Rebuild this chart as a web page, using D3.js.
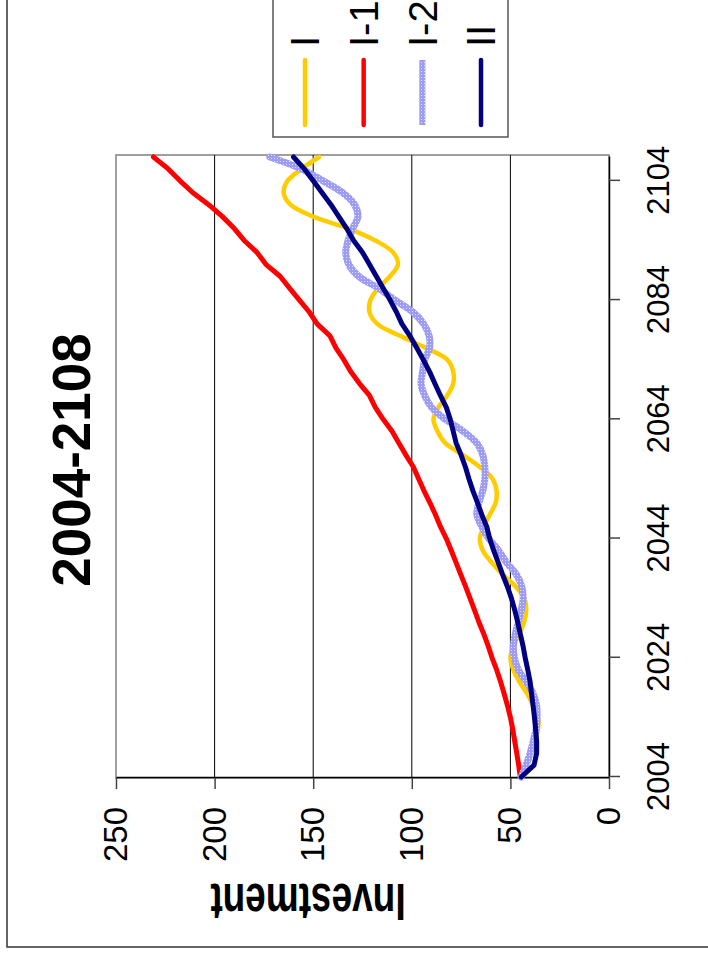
<!DOCTYPE html>
<html>
<head>
<meta charset="utf-8">
<script src="https://cdn.jsdelivr.net/npm/d3@7"></script>
<style>
    body { margin: 0; background: #fff; }
    svg { display: block; }
    text { font-family: "Liberation Sans", Arial, sans-serif; }
</style>
</head>
<body>
<svg id="mainSvg" width="708" height="958"></svg>
<script>
// Data (every 2 years)
let years = d3.range(2004, 2109, 2);

let seriesI = [44, 42, 39.5, 37.5, 36, 36, 38.5, 41.5, 45.5, 48.5, 50, 48.5, 45.5, 43, 42, 43,
    47.5, 54, 59.5, 64, 65.5, 63.5, 60.5, 57.5, 57, 59, 65.5, 74, 83, 87, 89, 86.5, 82, 79, 79,
    82, 93, 106, 117.5, 121.5, 121, 117, 111, 107, 109.5, 118.5, 132, 150, 161.5, 165, 163, 156, 147];

let seriesI1 = [45, 45.8, 46.8, 47.8, 48.8, 50, 51.5, 53.2, 55, 57, 59.3, 61.3, 63.5, 66, 68.2,
    70.5, 72.8, 75.2, 77.6, 80, 82.5, 85.5, 88, 90.8, 93.8, 96.5, 99.2, 103, 106.5, 110, 114.5,
    118.5, 121.5, 126.5, 131, 134.5, 138.5, 141.5, 148, 152, 157, 162, 166.8, 174, 178.5, 185,
    190, 196, 203, 211, 217.5, 223.5, 231];

let seriesI2 = [44.5, 42, 40, 38.4, 37, 36.5, 36.7, 38.5, 42, 46, 48, 48.5, 47.5, 46, 44.5, 43.5,
    44.3, 47, 52, 56, 61, 64.5, 67, 66, 64, 63, 63, 64, 67, 74, 83, 90, 93.5, 95.3, 94.5, 93.5,
    91, 91.2, 94, 99.5, 108.5, 117, 127, 132, 133.5, 132.3, 130, 127.3, 129, 135, 145, 156, 172];

let seriesII = [44.5, 38, 36.7, 36.7, 37.2, 37.8, 38.5, 39.3, 40, 41.2, 42.5, 43.6, 45, 46.3,
    47.8, 49.5, 51.6, 54, 56.2, 58.5, 60.5, 62, 64.5, 66.7, 69, 71, 72.8, 75, 77.5, 79, 80.5,
    82.5, 85.5, 88.3, 91, 94.2, 97.5, 101, 105, 107.8, 111, 114.5, 118, 121.5, 125, 129.5, 133,
    137, 141, 145.5, 150, 154.5, 160];

let seriesNames = ["I", "I-1", "I-2", "II"];
let yearTicks = [2004, 2024, 2044, 2064, 2084, 2104];
let valueTicks = [0, 50, 100, 150, 200, 250];

let svg = d3.select("#mainSvg");

// pattern for the speckled I-2 line
let defs = svg.append("defs");
let pat = defs.append("pattern")
    .attr("id", "speckle")
    .attr("patternUnits", "userSpaceOnUse")
    .attr("width", 3)
    .attr("height", 3);
pat.append("rect").attr("width", 3).attr("height", 3).attr("fill", "#9c9cf6");
pat.append("rect").attr("x", 1).attr("y", 1).attr("width", 1).attr("height", 1).attr("fill", "#e4e4ff");

// The chart is drawn landscape, then turned a quarter turn to the left
let g = svg.append("g").attr("transform", "translate(0,958) rotate(-90)");

// outer chart border
g.append("rect")
    .attr("x", 11).attr("y", 7)
    .attr("width", 980).attr("height", 740)
    .attr("fill", "none")
    .attr("stroke", "#333")
    .attr("stroke-width", 1.5);

let x = d3.scaleLinear().domain([2004, 2108]).range([181, 801]);
let y = d3.scaleLinear().domain([0, 250]).range([609, 116]);

// plot area
g.append("rect")
    .attr("x", 180).attr("y", 116)
    .attr("width", 623).attr("height", 493)
    .attr("fill", "#fff")
    .attr("stroke", "#808080")
    .attr("stroke-width", 1.5);

// gridlines
g.append("g")
    .selectAll("line")
    .data(valueTicks.filter((d) => d > 0 && d < 250))
    .join("line")
    .attr("x1", 180).attr("x2", 803)
    .attr("y1", (d) => y(d)).attr("y2", (d) => y(d))
    .attr("stroke", "#000")
    .attr("stroke-width", 1);

// category axis
let xAxis = g.append("g")
    .attr("transform", "translate(0,609)")
    .call(d3.axisBottom(x).tickValues(yearTicks).tickSize(11).tickSizeOuter(0)
        .tickPadding(27).tickFormat(d3.format("d")));
xAxis.select(".domain").attr("stroke", "#000").attr("stroke-width", 1.5);
xAxis.selectAll(".tick line").attr("stroke", "#444").attr("stroke-width", 1.5);
xAxis.selectAll("text").attr("font-size", 31).attr("fill", "#000");

// value axis
let yAxis = g.append("g")
    .attr("transform", "translate(180,0)")
    .call(d3.axisLeft(y).tickValues(valueTicks).tickSize(11).tickSizeOuter(0).tickPadding(18));
yAxis.select(".domain").attr("stroke", "#000").attr("stroke-width", 1.5);
yAxis.selectAll(".tick line").attr("stroke", "#444").attr("stroke-width", 1.5);
yAxis.selectAll("text").attr("font-size", 33).attr("fill", "#000");

// lines
let series = [
    { name: "I", values: seriesI, color: "#ffcc00", width: 4.5, curve: d3.curveCatmullRom },
    { name: "I-1", values: seriesI1, color: "#ff0000", width: 5, curve: d3.curveLinear },
    { name: "I-2", values: seriesI2, color: "url(#speckle)", width: 7, curve: d3.curveCatmullRom },
    { name: "II", values: seriesII, color: "#000080", width: 5, curve: d3.curveLinear },
];

series.forEach(function (s) {
    let line = d3.line()
        .x((d, i) => x(years[i]))
        .y((d) => y(d))
        .curve(s.curve);
    g.append("path")
        .datum(s.values)
        .attr("d", line)
        .attr("fill", "none")
        .attr("stroke", s.color)
        .attr("stroke-width", s.width)
        .attr("stroke-linejoin", "round")
        .attr("stroke-linecap", "round");
});

// title
g.append("text")
    .attr("x", 498).attr("y", 90)
    .attr("text-anchor", "middle")
    .attr("font-size", 53)
    .attr("font-weight", "bold")
    .text("2004-2108");

// value axis title (glyphs look taller than wide in the picture)
g.append("text")
    .attr("transform", "translate(74,308) rotate(-90) scale(1,1.4)")
    .attr("text-anchor", "middle")
    .attr("font-size", 37)
    .attr("font-weight", "bold")
    .text("Investment");

// legend
let legend = g.append("g");
legend.append("rect")
    .attr("x", 821).attr("y", 273)
    .attr("width", 200).attr("height", 235)
    .attr("fill", "#fff")
    .attr("stroke", "#555")
    .attr("stroke-width", 1.5);

let legendY = d3.scalePoint().domain(seriesNames).range([305, 481]);

series.forEach(function (s) {
    legend.append("line")
        .attr("x1", 833).attr("x2", 898)
        .attr("y1", legendY(s.name)).attr("y2", legendY(s.name))
        .attr("stroke", s.color)
        .attr("stroke-width", s.name === "I-2" ? 6 : 4.5)
        .attr("stroke-linecap", s.name === "I-2" ? "butt" : "round");
    legend.append("text")
        .attr("x", 911).attr("y", legendY(s.name))
        .attr("dy", "0.36em")
        .attr("font-size", 40)
        .text(s.name);
});
</script>
</body>
</html>
